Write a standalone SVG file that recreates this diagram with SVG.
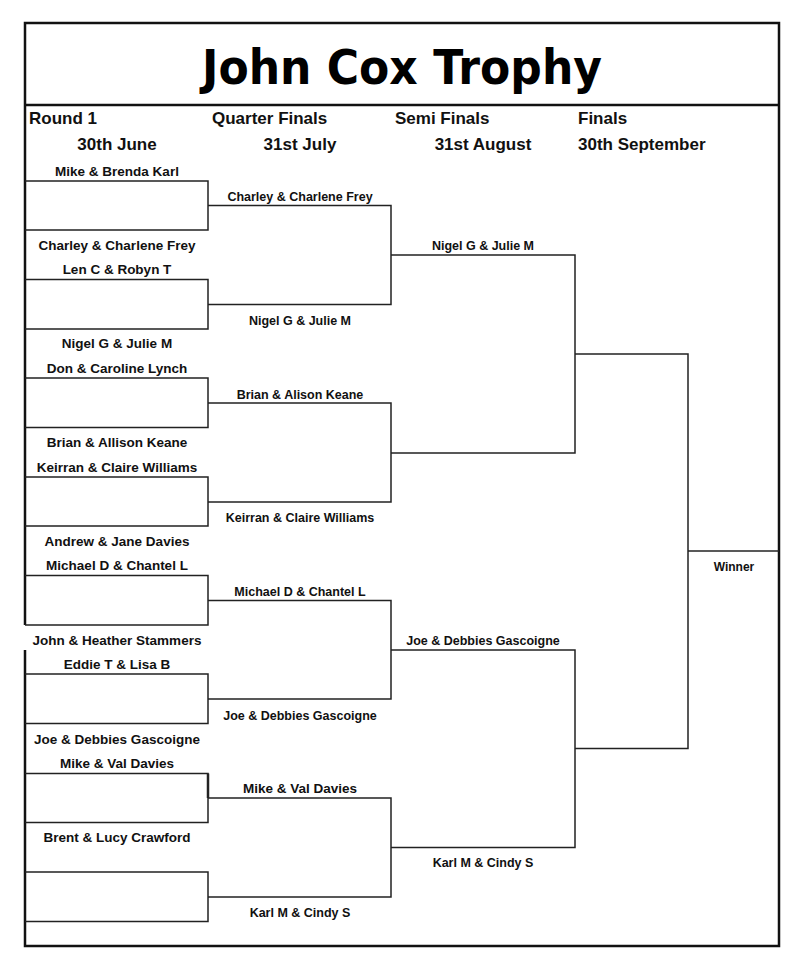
<svg xmlns="http://www.w3.org/2000/svg" width="800" height="967" viewBox="0 0 800 967">
<style>
.b{fill:none;stroke:#111;stroke-width:2.5}
.l{fill:none;stroke:#222;stroke-width:1.5}
.h{font-family:"Liberation Sans Narrow","Liberation Sans",Arial,sans-serif;font-weight:bold;font-size:17px;fill:#111}
.n{font-family:"Liberation Sans",Arial,sans-serif;font-weight:bold;font-size:13.5px;fill:#111;text-anchor:middle}
.q{font-family:"Liberation Sans",Arial,sans-serif;font-weight:bold;font-size:12.5px;fill:#111;text-anchor:middle}
.t{font-family:"Comic Sans MS","DejaVu Sans",sans-serif;font-weight:bold;font-size:48px;fill:#000;text-anchor:middle}
</style>
<rect x="0" y="0" width="800" height="967" fill="#fff"/>
<g id="frame">
<path class="b" d="M25,650 V946 H779 V23 H25 V625"/>
<line class="b" x1="25" y1="105" x2="779" y2="105"/>
</g>
<g id="title"><text class="t" x="402" y="84" textLength="400" lengthAdjust="spacingAndGlyphs">John Cox Trophy</text></g>
<g id="headers">
<text class="h" x="29" y="124">Round 1</text>
<text class="h" x="212" y="124">Quarter Finals</text>
<text class="h" x="395" y="124">Semi Finals</text>
<text class="h" x="578" y="124">Finals</text>
<text class="h" x="117" y="150" text-anchor="middle">30th June</text>
<text class="h" x="300" y="150" text-anchor="middle">31st July</text>
<text class="h" x="483" y="150" text-anchor="middle">31st  August</text>
<text class="h" x="578" y="150">30th September</text>
</g>
<g id="connectors">
<path class="l" d="M25,181 H208 V230 H25"/>
<path class="l" d="M25,279.5 H208 V329 H25"/>
<path class="l" d="M25,378 H208 V427.5 H25"/>
<path class="l" d="M25,477 H208 V526 H25"/>
<path class="l" d="M25,575.5 H208 V625 H25"/>
<path class="l" d="M25,674 H208 V723.5 H25"/>
<path class="l" d="M25,773.5 H208 V822.5 H25"/>
<line x1="208" y1="773.5" x2="208" y2="798" stroke="#222" stroke-width="2.5"/>
<path class="l" d="M25,872 H208 V921.5 H25"/>
<path class="l" d="M208,205.5 H391 V304.5 H208"/>
<path class="l" d="M208,403 H391 V502 H208"/>
<path class="l" d="M208,600.5 H391 V699 H208"/>
<path class="l" d="M208,798 H391 V897 H208"/>
<path class="l" d="M391,255 H575 V453 H391"/>
<path class="l" d="M391,650 H575 V847.5 H391"/>
<path class="l" d="M575,354 H688 V748.5 H575"/>
<line class="l" x1="688" y1="551" x2="779" y2="551"/>
</g>
<g id="round1">
<text class="n" x="117" y="176">Mike &amp; Brenda Karl</text>
<text class="n" x="117" y="250">Charley &amp; Charlene Frey</text>
<text class="n" x="117" y="274">Len C &amp; Robyn T</text>
<text class="n" x="117" y="348">Nigel G &amp; Julie M</text>
<text class="n" x="117" y="373">Don &amp; Caroline Lynch</text>
<text class="n" x="117" y="447">Brian &amp; Allison Keane</text>
<text class="n" x="117" y="472">Keirran &amp; Claire Williams</text>
<text class="n" x="117" y="546">Andrew &amp; Jane Davies</text>
<text class="n" x="117" y="570">Michael D &amp; Chantel L</text>
<text class="n" x="117" y="645">John &amp; Heather Stammers</text>
<text class="n" x="117" y="669">Eddie T &amp; Lisa B</text>
<text class="n" x="117" y="744">Joe &amp; Debbies Gascoigne</text>
<text class="n" x="117" y="768">Mike &amp; Val Davies</text>
<text class="n" x="117" y="842">Brent &amp; Lucy Crawford</text>
</g>
<g id="quarter">
<text class="q" x="300" y="201">Charley &amp; Charlene Frey</text>
<text class="q" x="300" y="325">Nigel G &amp; Julie M</text>
<text class="q" x="300" y="399">Brian &amp; Alison Keane</text>
<text class="q" x="300" y="522">Keirran &amp; Claire Williams</text>
<text class="q" x="300" y="596">Michael D &amp; Chantel L</text>
<text class="q" x="300" y="720">Joe &amp; Debbies Gascoigne</text>
<text class="n" x="300" y="793">Mike &amp; Val Davies</text>
<text class="q" x="300" y="917">Karl M &amp; Cindy S</text>
</g>
<g id="semi">
<text class="q" x="483" y="250">Nigel G &amp; Julie M</text>
<text class="q" x="483" y="645">Joe &amp; Debbies Gascoigne</text>
<text class="q" x="483" y="867">Karl M &amp; Cindy S</text>
</g>
<g id="final"><text class="q" x="734" y="571" style="font-size:12px">Winner</text></g>
</svg>
